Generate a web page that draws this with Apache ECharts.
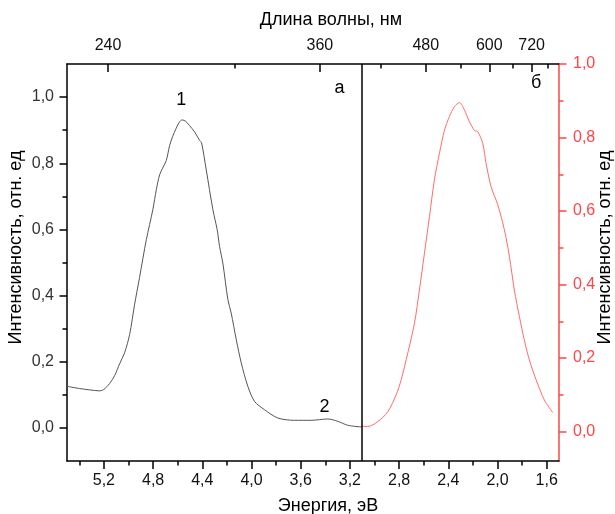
<!DOCTYPE html>
<html>
<head>
<meta charset="utf-8">
<script src="https://cdn.jsdelivr.net/npm/echarts@6/dist/echarts.min.js"></script>
<style>html,body{margin:0;padding:0;background:#fff}#c{width:615px;height:514px}</style>
</head>
<body>
<div id="c"></div>
<script>
// Black curve (absorption, left axis)
const energyA = [5.503,5.397,5.316,5.235,5.202,5.154,5.113,5.072,5.032,4.991,4.951,4.910,4.855,4.802,4.774,4.747,4.723,4.693,4.666,4.642,4.612,4.585,4.565,4.536,4.504,4.463,4.422,4.406,4.368,4.314,4.279,4.260,4.233,4.192,4.165,4.124,4.083,4.030,3.975,3.894,3.786,3.650,3.515,3.380,3.299,3.217,3.108];
const intensA = [0.126,0.119,0.115,0.112,0.116,0.134,0.158,0.194,0.227,0.282,0.372,0.455,0.569,0.660,0.720,0.765,0.785,0.808,0.853,0.880,0.906,0.925,0.931,0.927,0.914,0.895,0.869,0.862,0.780,0.660,0.599,0.549,0.498,0.388,0.347,0.267,0.196,0.126,0.080,0.055,0.030,0.023,0.023,0.027,0.020,0.008,0.003];
// Red curve (emission, right axis)
const energyB = [3.108,3.055,2.973,2.892,2.824,2.783,2.730,2.675,2.635,2.594,2.553,2.513,2.472,2.431,2.391,2.350,2.309,2.269,2.228,2.187,2.161,2.120,2.093,2.052,1.998,1.944,1.903,1.863,1.822,1.782,1.741,1.686,1.619,1.551];
const intensB = [0.014,0.014,0.027,0.054,0.100,0.141,0.213,0.295,0.385,0.485,0.585,0.685,0.757,0.820,0.857,0.884,0.895,0.875,0.843,0.819,0.816,0.784,0.730,0.666,0.617,0.549,0.476,0.385,0.313,0.249,0.195,0.141,0.086,0.052];

const bottomTicks = [1.6,2.0,2.4,2.8,3.2,3.6,4.0,4.4,4.8,5.2];
const bottomMinor = [1.8,2.2,2.6,3.0,3.4,3.8,4.2,4.6,5.0,5.4];
const topTicksNm = [240,360,480,600,720];
const topMinorNm = [300,420,540,660,780];
const leftTicks = [0,0.2,0.4,0.6,0.8,1.0];
const leftMinor = [0.1,0.3,0.5,0.7,0.9];
const rightTicks = [0,0.2,0.4,0.6,0.8,1.0];
const rightMinor = [0.1,0.3,0.5,0.7,0.9];
const separatorE = 3.1;

const RED = '#ff4545';
const FONT = 'Liberation Sans, Arial, sans-serif';
const comma = v => v.toFixed(1).replace('.', ',');
const toE = nm => 1240 / nm;

const xBase = {type:'value', min:1.5, max:5.5, inverse:true, gridIndex:0, splitLine:{show:false}};
const yLeftBase = {type:'value', min:-0.1, max:1.1, position:'left', splitLine:{show:false}};
const yRightBase = {type:'value', min:-0.08, max:1.0, position:'right', splitLine:{show:false}};

const chart = echarts.init(document.getElementById('c'));
chart.setOption({
  backgroundColor:'#fff',
  textStyle:{fontFamily:FONT},
  animation:false,
  grid:{left:67, right:56, top:64, bottom:53, containLabel:false, outerBoundsMode:'none'},
  xAxis:[
    Object.assign({}, xBase, {
      position:'bottom',
      name:'Энергия, эВ', nameLocation:'middle', nameGap:36,
      nameTextStyle:{fontSize:18, color:'#000', padding:[0,0,0,30]},
      axisLine:{onZero:false, lineStyle:{color:'#000', width:1.5}},
      axisTick:{customValues:bottomTicks, length:8, lineStyle:{color:'#000', width:1.5}},
      axisLabel:{customValues:bottomTicks, formatter:comma, fontSize:16, color:'#111', margin:12}
    }),
    Object.assign({}, xBase, {
      position:'bottom',
      axisLine:{show:false, onZero:false},
      axisTick:{customValues:bottomMinor, length:4.5, lineStyle:{color:'#000', width:1.5}},
      axisLabel:{show:false}
    }),
    Object.assign({}, xBase, {
      position:'top',
      name:'Длина волны, нм', nameLocation:'middle', nameGap:35,
      nameTextStyle:{fontSize:18, color:'#000', padding:[0,0,0,36]},
      axisLine:{onZero:false, lineStyle:{color:'#000', width:1.5}},
      axisTick:{inside:true, customValues:topTicksNm.map(toE), length:8, lineStyle:{color:'#000', width:1.5}},
      axisLabel:{customValues:topTicksNm.map(toE), formatter:v => String(Math.round(1240 / v)), fontSize:16, color:'#111', margin:10}
    }),
    Object.assign({}, xBase, {
      position:'top',
      axisLine:{show:false, onZero:false},
      axisTick:{inside:true, customValues:topMinorNm.map(toE), length:4.5, lineStyle:{color:'#000', width:1.5}},
      axisLabel:{show:false}
    })
  ],
  yAxis:[
    Object.assign({}, yLeftBase, {
      name:'Интенсивность, отн. ед', nameLocation:'middle', nameGap:42,
      nameMoveOverlap:false,
      nameTextStyle:{fontSize:18, color:'#000', padding:[0,0,0,30]},
      axisLine:{onZero:false, lineStyle:{color:'#000', width:1.5}},
      axisTick:{customValues:leftTicks, length:7.5, lineStyle:{color:'#000', width:1.5}},
      axisLabel:{customValues:leftTicks, formatter:comma, fontSize:16, color:'#333', margin:13}
    }),
    Object.assign({}, yLeftBase, {
      axisLine:{show:false, onZero:false},
      axisTick:{customValues:leftMinor, length:4.5, lineStyle:{color:'#000', width:1.5}},
      axisLabel:{show:false}
    }),
    Object.assign({}, yRightBase, {
      name:'Интенсивность, отн. ед', nameLocation:'middle', nameGap:37,
      nameMoveOverlap:false,
      nameTextStyle:{fontSize:18, color:'#000', padding:[0,0,0,30]},
      axisLine:{onZero:false, lineStyle:{color:RED, width:1.5}},
      axisTick:{customValues:rightTicks, length:7.5, lineStyle:{color:RED, width:1.5}},
      axisLabel:{customValues:rightTicks, formatter:comma, fontSize:16, color:RED, margin:14}
    }),
    Object.assign({}, yRightBase, {
      axisLine:{show:false, onZero:false},
      axisTick:{customValues:rightMinor, length:4.5, lineStyle:{color:RED, width:1.5}},
      axisLabel:{show:false}
    })
  ],
  series:[
    {
      type:'line', xAxisIndex:0, yAxisIndex:0,
      data:energyA.map((e,i)=>[e,intensA[i]]),
      smooth:0.3, showSymbol:false, symbol:'none',
      lineStyle:{color:'#555', width:1},
      markLine:{
        silent:true, symbol:'none',
        label:{show:false},
        lineStyle:{color:'#000', width:1.5, type:'solid'},
        data:[{xAxis:separatorE}]
      },
      markPoint:{
        symbol:'circle', symbolSize:1,
        itemStyle:{color:'rgba(0,0,0,0)'},
        label:{show:true, position:'inside', color:'#000', fontSize:18, fontFamily:FONT},
        data:[
          {coord:[4.571,0.992], value:'1', label:{formatter:'1'}},
          {coord:[3.407,0.064], value:'2', label:{formatter:'2'}},
          {coord:[3.285,1.028], value:'а', label:{formatter:'а'}},
          {coord:[1.686,1.043], value:'б', label:{formatter:'б'}}
        ]
      }
    },
    {
      type:'line', xAxisIndex:0, yAxisIndex:2,
      data:energyB.map((e,i)=>[e,intensB[i]]),
      smooth:0.3, showSymbol:false, symbol:'none',
      lineStyle:{color:'#ff6b6b', width:1}
    }
  ]
});
</script>
</body>
</html>
